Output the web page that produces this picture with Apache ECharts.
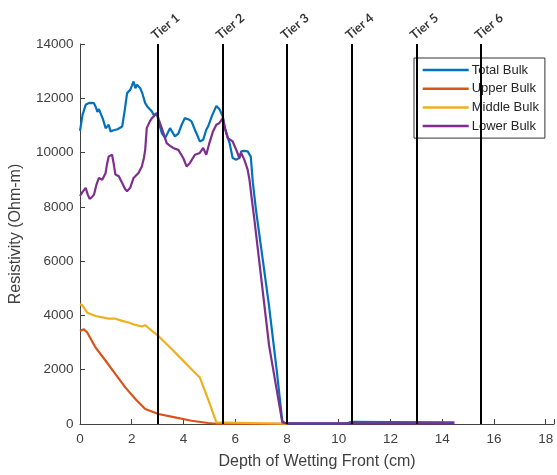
<!DOCTYPE html>
<html>
<head>
<meta charset="utf-8">
<script src="https://cdn.jsdelivr.net/npm/echarts@6/dist/echarts.min.js"></script>
<style>
  html, body { margin: 0; padding: 0; background: #fff; }
  #chartContainer { width: 557px; height: 475px; }
</style>
</head>
<body>
<div id="chartContainer"></div>
<script>
// depth (cm) / resistivity (Ohm-m)
var totalDepth = [0, 0.1, 0.22, 0.35, 0.54, 0.62, 0.67, 0.73, 0.79, 0.88, 0.99, 1.05, 1.11, 1.18, 1.3, 1.45, 1.63, 1.72, 1.82, 1.94, 2.0, 2.07, 2.14, 2.2, 2.27, 2.33, 2.42, 2.52, 2.6, 2.65, 2.78, 2.85, 2.97, 3.05, 3.16, 3.29, 3.38, 3.48, 3.57, 3.67, 3.8, 3.93, 4.05, 4.2, 4.31, 4.37, 4.44, 4.55, 4.63, 4.76, 4.88, 4.95, 5.1, 5.27, 5.39, 5.52, 5.6, 5.78, 5.9, 6.04, 6.16, 6.23, 6.35, 6.48, 6.6, 6.68, 6.8, 7.3, 7.6, 7.82, 7.95, 10.3, 10.5, 12, 14.47];
var totalValues = [10800, 11400, 11760, 11830, 11820, 11650, 11500, 11600, 11640, 11250, 10900, 10850, 11025, 10780, 10820, 10860, 10960, 11500, 12190, 12310, 12450, 12620, 12370, 12500, 12450, 12370, 12150, 11820, 11700, 11640, 11510, 11380, 11450, 11100, 10720, 10540, 10700, 10900, 10750, 10600, 10700, 11025, 11270, 11220, 11150, 11150, 10840, 10600, 10410, 10470, 10840, 10960, 11350, 11720, 11600, 11330, 10900, 10350, 9800, 9740, 9800, 10045, 10060, 10045, 9850, 8900, 7900, 4400, 2000, 100, 20, 20, 80, 70, 60];

var upperDepth = [0, 0.15, 0.28, 0.6, 0.99, 1.37, 1.75, 2.14, 2.52, 3.03, 3.67, 4.31, 4.95, 5.3, 8.0];
var upperValues = [3430, 3490, 3370, 2820, 2330, 1840, 1350, 920, 550, 370, 245, 120, 37, 10, 10];

var middleDepth = [0, 0.08, 0.15, 0.28, 0.6, 1.11, 1.37, 1.63, 1.88, 2.14, 2.39, 2.52, 2.71, 3.03, 3.54, 3.93, 4.31, 4.63, 4.95, 5.27, 5.33, 8.0];
var middleValues = [4410, 4380, 4290, 4100, 3980, 3880, 3880, 3800, 3740, 3650, 3590, 3640, 3490, 3245, 2760, 2390, 2020, 1715, 920, 60, 10, 10];

var lowerDepth = [0, 0.1, 0.22, 0.3, 0.37, 0.45, 0.54, 0.63, 0.73, 0.86, 0.99, 1.05, 1.11, 1.24, 1.3, 1.37, 1.5, 1.63, 1.75, 1.82, 1.94, 2.07, 2.26, 2.39, 2.47, 2.52, 2.58, 2.7, 2.78, 2.97, 3.05, 3.16, 3.35, 3.48, 3.6, 3.8, 3.99, 4.12, 4.25, 4.44, 4.63, 4.76, 4.88, 5.0, 5.14, 5.27, 5.39, 5.52, 5.6, 5.71, 5.9, 6.04, 6.16, 6.23, 6.35, 6.48, 6.55, 6.61, 6.74, 7.31, 7.82, 8.0, 14.47];
var lowerValues = [8400, 8550, 8700, 8450, 8300, 8350, 8450, 8800, 9065, 9000, 9250, 9600, 9860, 9920, 9600, 9190, 9125, 8880, 8650, 8575, 8700, 9065, 9250, 9490, 9800, 10100, 10900, 11150, 11270, 11450, 11200, 10900, 10350, 10250, 10170, 10100, 9800, 9490, 9620, 9920, 9985, 10170, 9920, 10350, 10780, 11025, 11090, 11270, 10900, 10535, 10410, 10100, 9800, 9985, 9740, 9370, 9000, 8515, 7530, 2880, 60, 20, 20];

var tierDepth = [3, 5.5, 8, 10.5, 13, 15.5];
var tierNames = ['Tier 1', 'Tier 2', 'Tier 3', 'Tier 4', 'Tier 5', 'Tier 6'];

var seriesNames = ['Total Bulk', 'Upper Bulk', 'Middle Bulk', 'Lower Bulk'];
var seriesColors = ['#0072BD', '#D95319', '#EDB120', '#7E2F8E'];

var AXIS_COLOR = '#404040';
var FONT = '"Liberation Sans", Arial, sans-serif';

function pairs(xs, ys) {
  return xs.map((x, i) => [x, ys[i]]);
}

function lineSeries(idx, xs, ys) {
  return {
    name: seriesNames[idx],
    type: 'line',
    data: pairs(xs, ys),
    symbol: 'none',
    smooth: false,
    clip: false,
    color: seriesColors[idx],
    lineStyle: { width: 2.2, color: seriesColors[idx] },
    z: 2
  };
}

var CHART = echarts.init(document.getElementById('chartContainer'), null, { renderer: 'canvas' });

var CHART_OPTION = {
  animation: false,
  backgroundColor: '#fff',
  grid: {
    left: 79.3,
    top: 44,
    right: 0,
    bottom: 50,
    containLabel: false
  },
  legend: {
    data: seriesNames.map((n) => ({ name: n, icon: 'rect' })),
    orient: 'vertical',
    left: 414,
    top: 58,
    backgroundColor: '#fff',
    borderColor: '#333',
    borderWidth: 1,
    borderRadius: 0,
    padding: [5, 6, 5, 8.7],
    itemWidth: 46,
    itemHeight: 2.5,
    itemGap: 4.7,
    textStyle: { fontSize: 13, lineHeight: 14, color: '#262626', fontFamily: FONT, padding: [0, 0, 0, -2] }
  },
  xAxis: {
    type: 'value',
    min: 0,
    max: 18.32,
    interval: 2,
    name: 'Depth of Wetting Front (cm)',
    nameLocation: 'middle',
    nameGap: 30,
    nameTextStyle: { fontSize: 16, color: AXIS_COLOR, fontFamily: FONT },
    axisLine: { show: true, lineStyle: { color: AXIS_COLOR, width: 1 } },
    axisTick: { show: true, inside: true, length: 5, lineStyle: { color: AXIS_COLOR } },
    axisLabel: {
      fontSize: 13.5,
      color: AXIS_COLOR,
      fontFamily: FONT,
      margin: 8,
      formatter: (v) => (Math.abs(v - Math.round(v)) < 1e-6 ? String(Math.round(v)) : '')
    },
    splitLine: { show: false }
  },
  yAxis: {
    type: 'value',
    min: 0,
    max: 14000,
    interval: 2000,
    name: 'Resistivity (Ohm-m)',
    nameLocation: 'middle',
    nameGap: 56,
    nameTextStyle: { fontSize: 16, color: AXIS_COLOR, fontFamily: FONT },
    axisLine: { show: true, lineStyle: { color: AXIS_COLOR, width: 1 } },
    axisTick: { show: true, inside: true, length: 5, lineStyle: { color: AXIS_COLOR } },
    axisLabel: {
      fontSize: 13.5,
      color: AXIS_COLOR,
      fontFamily: FONT,
      margin: 6.5,
      formatter: (v) => String(v)
    },
    splitLine: { show: false }
  },
  series: [
    lineSeries(0, totalDepth, totalValues),
    lineSeries(1, upperDepth, upperValues),
    lineSeries(2, middleDepth, middleValues),
    lineSeries(3, lowerDepth, lowerValues),
    {
      name: 'tiers',
      type: 'scatter',
      clip: false,
      silent: true,
      symbolSize: 1,
      itemStyle: { color: 'rgba(0,0,0,0)' },
      data: tierDepth.map((x, i) => ({ value: [x, 14000], name: tierNames[i] })),
      label: {
        show: true,
        formatter: (p) => p.name,
        position: [8.5, -17],
        align: 'center',
        verticalAlign: 'middle',
        rotate: 40,
        fontSize: 12.5,
        fontWeight: 'bold',
        fontFamily: 'Lato, "Open Sans", sans-serif',
        color: '#000'
      },
      markLine: {
        silent: true,
        symbol: 'none',
        label: { show: false },
        lineStyle: { color: '#000', width: 2, type: 'solid' },
        data: tierDepth.map((x) => ({ xAxis: x }))
      },
      z: 5
    }
  ]
};

CHART.setOption(CHART_OPTION);
</script>
</body>
</html>
